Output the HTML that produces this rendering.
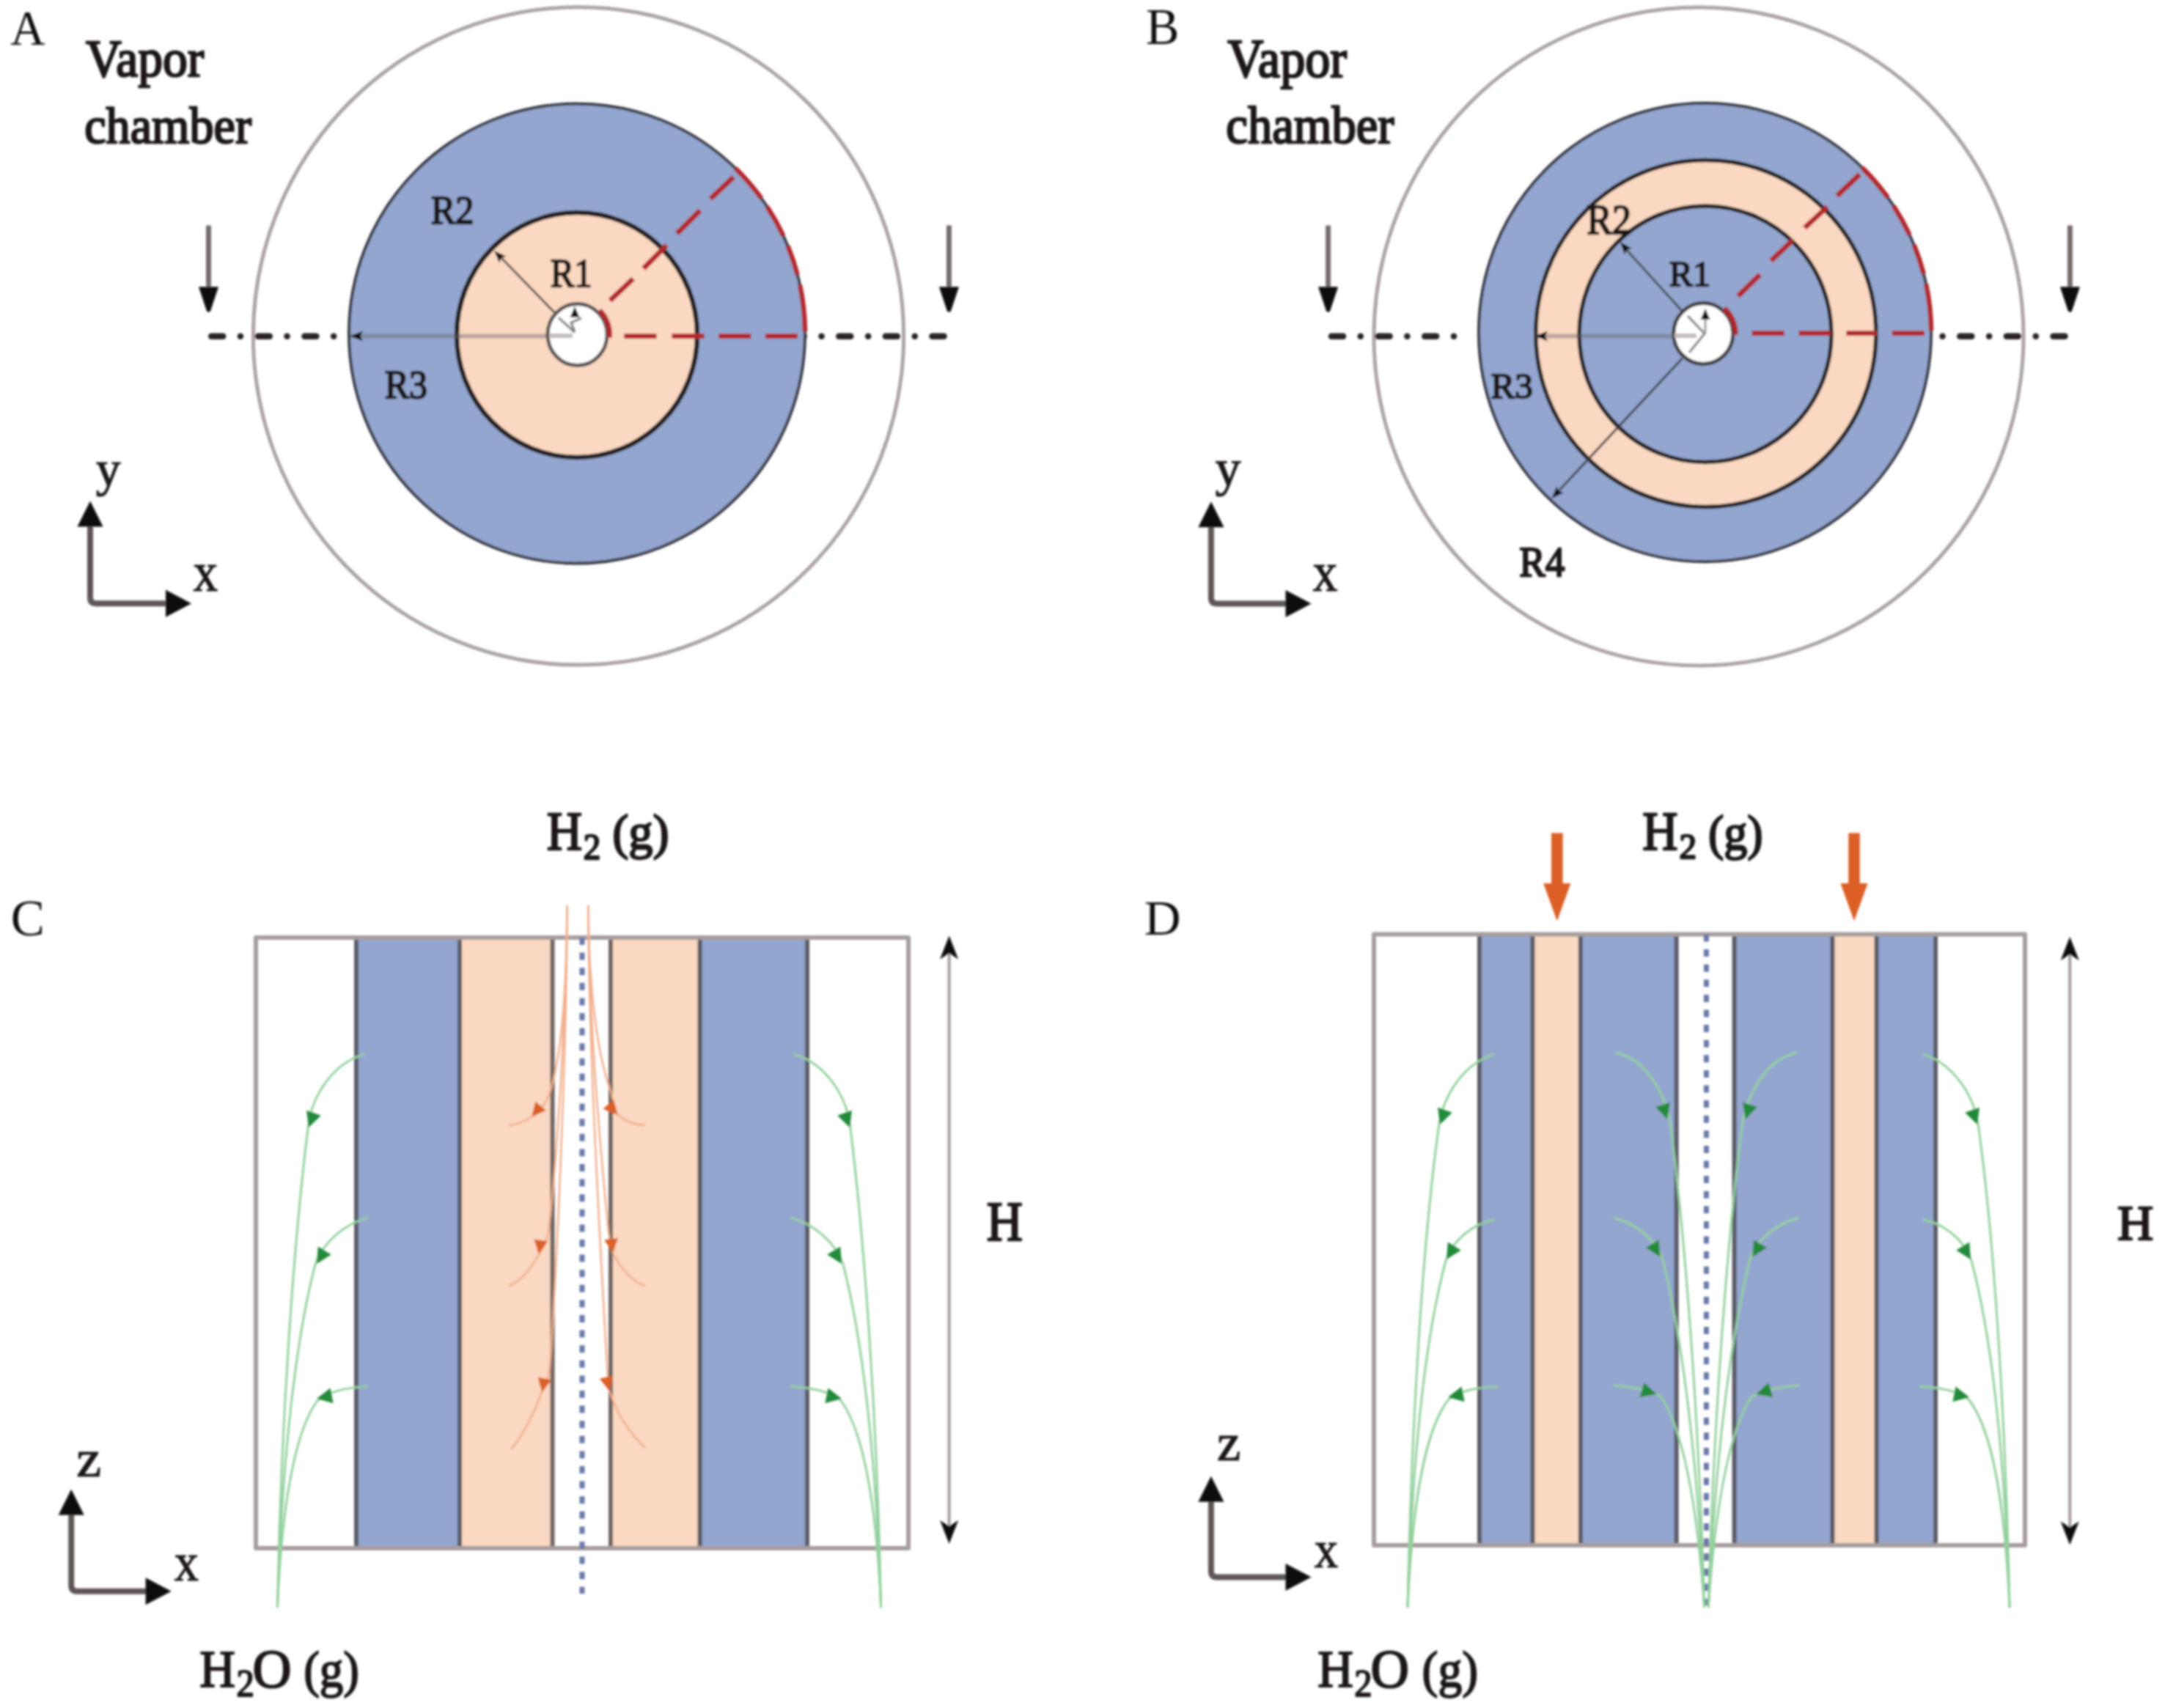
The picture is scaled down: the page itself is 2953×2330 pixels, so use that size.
<!DOCTYPE html>
<html><head><meta charset="utf-8"><title>figure</title>
<style>html,body{margin:0;padding:0;background:#fff;overflow:hidden;width:2953px;height:2330px}svg{display:block}text{font-family:"Liberation Serif",serif}</style>
</head><body>
<svg width="2953" height="2330" viewBox="0 0 2953 2330">
<defs><filter id="soft" x="0" y="0" width="2953" height="2330" filterUnits="userSpaceOnUse"><feGaussianBlur stdDeviation="1.5"/></filter></defs>
<rect width="2953" height="2330" fill="#fff"/>
<g filter="url(#soft)">
<ellipse cx="789" cy="458.4" rx="443.6" ry="448.7" fill="none" stroke="#aba3a3" stroke-width="5"/>
<line x1="288.20" y1="458.8" x2="490.00" y2="458.8" stroke="#2b2424" stroke-width="8.5" stroke-linecap="round" stroke-dasharray="16 23.7 0.1 23.8" stroke-dashoffset="0"/>
<line x1="1287.50" y1="458.8" x2="1085.00" y2="458.8" stroke="#2b2424" stroke-width="8.5" stroke-linecap="round" stroke-dasharray="16 23.7 0.1 23.8" stroke-dashoffset="0"/>
<ellipse cx="787" cy="455" rx="311" ry="313.5" fill="#93a6cf" stroke="#34343f" stroke-width="4"/>
<ellipse cx="787" cy="457" rx="164" ry="167" fill="#fbd8c1" stroke="#211a1c" stroke-width="6.5"/>
<line x1="478.00" y1="458.50" x2="749.00" y2="458.50" stroke="#6a6a72" stroke-width="6" stroke-opacity="0.45"/>
<ellipse cx="787.5" cy="456.5" rx="40.5" ry="42" fill="#ffffff" stroke="#585050" stroke-width="5"/>
<line x1="749.00" y1="458.00" x2="781.00" y2="458.00" stroke="#c4bcbc" stroke-width="6"/>
<polygon points="478.00,458.50 495.00,451.50 491.60,458.50 495.00,465.50" fill="#111"/>
<line x1="756.00" y1="426.00" x2="684.00" y2="352.00" stroke="#4f4848" stroke-width="3"/>
<polygon points="674.00,342.00 690.51,349.67 683.47,351.76 681.18,358.72" fill="#111"/>
<line x1="762.00" y1="433.50" x2="784.00" y2="453.40" stroke="#8a8585" stroke-width="3.5"/>
<path d="M784,452 L779,440 L793,434" fill="none" stroke="#777" stroke-width="3"/>
<polygon points="784.00,418.00 790.50,433.00 784.00,433.00 777.50,433.00" fill="#111"/>
<line x1="851.20" y1="458.40" x2="895.50" y2="458.40" stroke="#b3282b" stroke-width="7"/>
<line x1="916.30" y1="458.40" x2="960.60" y2="458.40" stroke="#b3282b" stroke-width="7"/>
<line x1="980.00" y1="458.40" x2="1024.40" y2="458.40" stroke="#b3282b" stroke-width="7"/>
<line x1="1043.80" y1="458.40" x2="1088.00" y2="458.40" stroke="#b3282b" stroke-width="7"/>
<line x1="832.00" y1="410.00" x2="863.60" y2="380.20" stroke="#b3282b" stroke-width="7"/>
<line x1="877.70" y1="366.20" x2="909.30" y2="334.50" stroke="#b3282b" stroke-width="7"/>
<line x1="923.30" y1="318.70" x2="955.00" y2="287.00" stroke="#b3282b" stroke-width="7"/>
<line x1="969.00" y1="271.30" x2="1000.60" y2="241.50" stroke="#b3282b" stroke-width="7"/>
<path d="M1003.04,229.49 A311,313.5 0 0 1 1038.60,270.73" fill="none" stroke="#b3282b" stroke-width="6.5"/>
<path d="M1046.34,281.97 A311,313.5 0 0 1 1068.40,321.52" fill="none" stroke="#b3282b" stroke-width="6.5"/>
<path d="M1074.53,335.53 A311,313.5 0 0 1 1087.68,374.92" fill="none" stroke="#b3282b" stroke-width="6.5"/>
<path d="M1090.98,388.75 A311,313.5 0 0 1 1097.99,452.26" fill="none" stroke="#b3282b" stroke-width="6.5"/>
<path d="M817.51,423.22 A44,45.5 0 0 1 831.33,460.47" fill="none" stroke="#b3282b" stroke-width="7"/>
<line x1="284.50" y1="307.50" x2="284.50" y2="394.00" stroke="#756c6c" stroke-width="7"/>
<path d="M272.00,392 L297.00,392 L286.50,423.5 Q284.50,426.5 282.50,423.5 Z" fill="#0d0a0a" stroke="#0d0a0a" stroke-width="1.5" stroke-linejoin="round"/>
<line x1="1294.40" y1="307.50" x2="1294.40" y2="394.00" stroke="#756c6c" stroke-width="7"/>
<path d="M1281.90,392 L1306.90,392 L1296.40,423.5 Q1294.40,426.5 1292.40,423.5 Z" fill="#0d0a0a" stroke="#0d0a0a" stroke-width="1.5" stroke-linejoin="round"/>
<path d="M123.00,713.60 L123.00,815.30 Q123.00,823.30 131.00,823.30 L231.00,823.30" fill="none" stroke="#5e5656" stroke-width="8"/>
<polygon points="123.00,683.60 140.50,718.60 123.00,718.60 105.50,718.60" fill="#0d0a0a"/>
<polygon points="261.00,823.30 226.00,841.80 226.00,823.30 226.00,804.80" fill="#0d0a0a"/>
<text transform="translate(14.14,61.00) scale(0.9548,1)" font-size="68.64" fill="#111">A</text>
<text transform="translate(116.96,103.50) scale(0.9278,1)" font-size="72.82" fill="#1a1414" stroke="#1a1414" stroke-width="2.6" stroke-linejoin="round">Vapor</text>
<text transform="translate(115.19,195.00) scale(0.9428,1)" font-size="70.17" fill="#1a1414" stroke="#1a1414" stroke-width="2.6" stroke-linejoin="round">chamber</text>
<text transform="translate(587.74,305.30) scale(0.9245,1)" font-size="54.53" fill="#1a1414" stroke="#1a1414" stroke-width="2.4" stroke-linejoin="round">R2</text>
<text transform="translate(750.78,390.50) scale(0.8872,1)" font-size="55.00" fill="#1a1414" stroke="#1a1414" stroke-width="2.4" stroke-linejoin="round">R1</text>
<text transform="translate(524.75,543.40) scale(0.9152,1)" font-size="54.68" fill="#1a1414" stroke="#1a1414" stroke-width="2.4" stroke-linejoin="round">R3</text>
<text transform="translate(130.79,663.02) scale(0.9901,1)" font-size="68.44" fill="#1a1414" stroke="#1a1414" stroke-width="1.2" stroke-linejoin="round">y</text>
<text transform="translate(263.59,806.00) scale(0.8867,1)" font-size="75.82" fill="#1a1414" stroke="#1a1414" stroke-width="1.2" stroke-linejoin="round">x</text>
<ellipse cx="2317" cy="459" rx="443" ry="449" fill="none" stroke="#aba3a3" stroke-width="5"/>
<line x1="1816.00" y1="458.8" x2="1990.00" y2="458.8" stroke="#2b2424" stroke-width="8.5" stroke-linecap="round" stroke-dasharray="16 23.7 0.1 23.8" stroke-dashoffset="0"/>
<line x1="2816.50" y1="458.8" x2="2620.00" y2="458.8" stroke="#2b2424" stroke-width="8.5" stroke-linecap="round" stroke-dasharray="16 23.7 0.1 23.8" stroke-dashoffset="0"/>
<ellipse cx="2325.5" cy="453.5" rx="308.5" ry="312.7" fill="#93a6cf" stroke="#34343f" stroke-width="4"/>
<ellipse cx="2326.8" cy="455" rx="232" ry="236.5" fill="#fbd8c1" stroke="#211a1c" stroke-width="5.5"/>
<ellipse cx="2326" cy="455.7" rx="172" ry="174.8" fill="#93a6cf" stroke="#211a1c" stroke-width="5.5"/>
<line x1="2094.00" y1="458.50" x2="2283.00" y2="458.50" stroke="#6a6a72" stroke-width="6" stroke-opacity="0.45"/>
<line x1="2294.50" y1="488.90" x2="2122.00" y2="674.00" stroke="#3f3f4a" stroke-width="3"/>
<polygon points="2116.50,680.00 2123.36,663.14 2125.79,670.06 2132.86,672.02" fill="#111"/>
<line x1="2294.00" y1="424.00" x2="2216.00" y2="338.00" stroke="#4a4a55" stroke-width="3"/>
<polygon points="2210.00,330.00 2225.88,338.90 2218.71,340.45 2215.89,347.22" fill="#111"/>
<ellipse cx="2323.2" cy="455" rx="40.5" ry="41.5" fill="#ffffff" stroke="#3e3a3a" stroke-width="5"/>
<line x1="2284.00" y1="458.00" x2="2314.00" y2="458.00" stroke="#c4bcbc" stroke-width="6"/>
<polygon points="2094.00,458.50 2111.00,451.50 2107.60,458.50 2111.00,465.50" fill="#111"/>
<path d="M2302,431 L2325,455 L2304,481" fill="none" stroke="#8e8888" stroke-width="3.5"/>
<line x1="2326.00" y1="455.00" x2="2326.00" y2="436.00" stroke="#999" stroke-width="3"/>
<polygon points="2326.00,421.00 2332.50,436.00 2326.00,436.00 2319.50,436.00" fill="#111"/>
<line x1="2389.60" y1="454.50" x2="2433.80" y2="454.50" stroke="#b3282b" stroke-width="7"/>
<line x1="2453.60" y1="454.50" x2="2497.00" y2="454.50" stroke="#b3282b" stroke-width="7"/>
<line x1="2518.40" y1="454.50" x2="2560.30" y2="454.50" stroke="#b3282b" stroke-width="7"/>
<line x1="2580.80" y1="454.50" x2="2625.00" y2="454.50" stroke="#b3282b" stroke-width="7"/>
<line x1="2370.60" y1="403.90" x2="2400.60" y2="374.70" stroke="#b3282b" stroke-width="7"/>
<line x1="2415.60" y1="355.70" x2="2444.90" y2="328.00" stroke="#b3282b" stroke-width="7"/>
<line x1="2461.50" y1="310.70" x2="2492.30" y2="282.20" stroke="#b3282b" stroke-width="7"/>
<line x1="2505.70" y1="267.20" x2="2536.60" y2="237.90" stroke="#b3282b" stroke-width="7"/>
<path d="M2539.80,228.56 A308.5,312.7 0 0 1 2575.08,269.70" fill="none" stroke="#b3282b" stroke-width="6.5"/>
<path d="M2582.75,280.91 A308.5,312.7 0 0 1 2604.64,320.36" fill="none" stroke="#b3282b" stroke-width="6.5"/>
<path d="M2610.72,334.34 A308.5,312.7 0 0 1 2623.77,373.62" fill="none" stroke="#b3282b" stroke-width="6.5"/>
<path d="M2627.03,387.42 A308.5,312.7 0 0 1 2633.99,450.77" fill="none" stroke="#b3282b" stroke-width="6.5"/>
<path d="M2351.48,420.53 A44,45 0 0 1 2367.17,456.57" fill="none" stroke="#b3282b" stroke-width="7"/>
<line x1="1811.60" y1="307.50" x2="1811.60" y2="394.00" stroke="#756c6c" stroke-width="7"/>
<path d="M1799.10,392 L1824.10,392 L1813.60,423.5 Q1811.60,426.5 1809.60,423.5 Z" fill="#0d0a0a" stroke="#0d0a0a" stroke-width="1.5" stroke-linejoin="round"/>
<line x1="2823.40" y1="307.50" x2="2823.40" y2="394.00" stroke="#756c6c" stroke-width="7"/>
<path d="M2810.90,392 L2835.90,392 L2825.40,423.5 Q2823.40,426.5 2821.40,423.5 Z" fill="#0d0a0a" stroke="#0d0a0a" stroke-width="1.5" stroke-linejoin="round"/>
<path d="M1651.90,714.30 L1651.90,815.50 Q1651.90,823.50 1659.90,823.50 L1758.50,823.50" fill="none" stroke="#5e5656" stroke-width="8"/>
<polygon points="1651.90,684.30 1669.40,719.30 1651.90,719.30 1634.40,719.30" fill="#0d0a0a"/>
<polygon points="1788.50,823.50 1753.50,842.00 1753.50,823.50 1753.50,805.00" fill="#0d0a0a"/>
<text transform="translate(1562.93,60.00) scale(0.9888,1)" font-size="68.85" fill="#111">B</text>
<text transform="translate(1674.15,104.80) scale(0.9216,1)" font-size="74.05" fill="#1a1414" stroke="#1a1414" stroke-width="2.6" stroke-linejoin="round">Vapor</text>
<text transform="translate(1672.37,194.90) scale(0.9371,1)" font-size="71.04" fill="#1a1414" stroke="#1a1414" stroke-width="2.6" stroke-linejoin="round">chamber</text>
<text transform="translate(2164.19,319.40) scale(0.9284,1)" font-size="56.19" fill="#1a1414" stroke="#1a1414" stroke-width="2.4" stroke-linejoin="round">R2</text>
<text transform="translate(2276.80,389.60) scale(0.9736,1)" font-size="49.55" fill="#1a1414" stroke="#1a1414" stroke-width="2.4" stroke-linejoin="round">R1</text>
<text transform="translate(2033.48,542.70) scale(1.0114,1)" font-size="48.49" fill="#1a1414" stroke="#1a1414" stroke-width="2.4" stroke-linejoin="round">R3</text>
<text transform="translate(2072.15,786.40) scale(0.9196,1)" font-size="58.05" fill="#1a1414" stroke="#1a1414" stroke-width="2.4" stroke-linejoin="round">R4</text>
<text transform="translate(1657.56,662.26) scale(0.9995,1)" font-size="70.07" fill="#1a1414" stroke="#1a1414" stroke-width="1.2" stroke-linejoin="round">y</text>
<text transform="translate(1790.59,806.00) scale(0.8797,1)" font-size="77.12" fill="#1a1414" stroke="#1a1414" stroke-width="1.2" stroke-linejoin="round">x</text>
<rect x="486.00" y="1279" width="141.00" height="833" fill="#93a6cf"/>
<rect x="627.00" y="1279" width="126.50" height="833" fill="#fbd8c1"/>
<rect x="833.00" y="1279" width="121.60" height="833" fill="#fbd8c1"/>
<rect x="954.60" y="1279" width="146.40" height="833" fill="#93a6cf"/>
<line x1="486.00" y1="1279.00" x2="486.00" y2="2112.00" stroke="#5a5a66" stroke-width="6"/>
<line x1="627.00" y1="1279.00" x2="627.00" y2="2112.00" stroke="#5a5a66" stroke-width="6"/>
<line x1="753.50" y1="1279.00" x2="753.50" y2="2112.00" stroke="#6f6560" stroke-width="6"/>
<line x1="833.00" y1="1279.00" x2="833.00" y2="2112.00" stroke="#6f6560" stroke-width="6"/>
<line x1="954.60" y1="1279.00" x2="954.60" y2="2112.00" stroke="#5a5a66" stroke-width="6"/>
<line x1="1101.00" y1="1279.00" x2="1101.00" y2="2112.00" stroke="#5a5a66" stroke-width="6"/>
<rect x="349" y="1279" width="890" height="833" fill="none" stroke="#a69d9d" stroke-width="6" stroke-linejoin="round"/>
<line x1="794" y1="1279" x2="794" y2="2174" stroke="#6a78a8" stroke-width="7" stroke-dasharray="10 10.6"/>
<path d="M773.6,1236 C773,1350 766,1440 750,1490 C745,1505 735,1518 725,1524 C715,1530 705,1534 695,1535" fill="none" stroke="#f1ae8c" stroke-width="2.6" stroke-opacity="1" stroke-linecap="round"/>
<path d="M773.6,1236 C772,1400 758,1600 748,1680 C745,1695 740,1705 735,1711 C725,1730 710,1748 695,1754" fill="none" stroke="#f1ae8c" stroke-width="2.6" stroke-opacity="1" stroke-linecap="round"/>
<path d="M773.6,1236 C773,1450 758,1750 750,1865 C748,1880 744,1892 739,1899 C730,1925 715,1955 698,1976" fill="none" stroke="#f1ae8c" stroke-width="2.6" stroke-opacity="1" stroke-linecap="round"/>
<path d="M802.4,1236 C803,1350 815,1440 833,1488 C836,1500 839,1512 842,1520 C852,1530 865,1534 879,1535" fill="none" stroke="#f1ae8c" stroke-width="2.6" stroke-opacity="1" stroke-linecap="round"/>
<path d="M802.4,1236 C803,1400 822,1600 830,1680 C832,1695 834,1703 836,1709 C846,1730 862,1748 879,1754" fill="none" stroke="#f1ae8c" stroke-width="2.6" stroke-opacity="1" stroke-linecap="round"/>
<path d="M802.4,1236 C803,1450 822,1750 828,1865 C829,1880 830,1890 831,1897 C840,1925 858,1955 879,1974" fill="none" stroke="#f1ae8c" stroke-width="2.6" stroke-opacity="1" stroke-linecap="round"/>
<polygon points="725.30,1523.20 730.37,1502.57 737.61,1508.72 744.84,1514.88" fill="#dc5f27"/>
<polygon points="734.90,1710.70 728.32,1690.50 737.72,1691.91 747.11,1693.32" fill="#dc5f27"/>
<polygon points="739.20,1899.20 733.61,1878.71 742.93,1880.57 752.24,1882.43" fill="#dc5f27"/>
<polygon points="842.00,1521.00 822.46,1512.68 829.69,1506.52 836.93,1500.37" fill="#dc5f27"/>
<polygon points="836.30,1709.00 824.09,1691.62 833.48,1690.21 842.88,1688.80" fill="#dc5f27"/>
<polygon points="831.00,1897.50 817.96,1880.73 827.27,1878.87 836.59,1877.01" fill="#dc5f27"/>
<path d="M496.6,1438.4 C455.0,1450 424.0,1495 420.0,1540 C400.0,1700 383.0,1950 378.4,2192" fill="none" stroke="#93d09d" stroke-width="3" stroke-opacity="1" stroke-linecap="round"/>
<path d="M500.7,1661.4 C470.0,1670 440.0,1695 430.0,1725 C405.0,1820 385.0,1980 378.4,2192" fill="none" stroke="#93d09d" stroke-width="3" stroke-opacity="1" stroke-linecap="round"/>
<path d="M500.7,1891.6 C470.0,1893 445.0,1900 432.0,1912 C405.0,1950 385.0,2040 378.4,2192" fill="none" stroke="#93d09d" stroke-width="3" stroke-opacity="1" stroke-linecap="round"/>
<polygon points="421.00,1538.00 418.03,1514.71 427.94,1518.18 437.85,1521.65" fill="#238a3b"/>
<polygon points="432.00,1724.00 433.80,1700.59 442.80,1705.99 451.81,1711.39" fill="#238a3b"/>
<polygon points="432.00,1908.00 450.53,1893.59 452.59,1903.88 454.65,1914.18" fill="#238a3b"/>
<path d="M1083.4,1438.4 C1125.0,1450 1156.0,1495 1160.0,1540 C1180.0,1700 1197.0,1950 1201.6,2192" fill="none" stroke="#93d09d" stroke-width="3" stroke-opacity="1" stroke-linecap="round"/>
<path d="M1079.3,1661.4 C1110.0,1670 1140.0,1695 1150.0,1725 C1175.0,1820 1195.0,1980 1201.6,2192" fill="none" stroke="#93d09d" stroke-width="3" stroke-opacity="1" stroke-linecap="round"/>
<path d="M1079.3,1891.6 C1110.0,1893 1135.0,1900 1148.0,1912 C1175.0,1950 1195.0,2040 1201.6,2192" fill="none" stroke="#93d09d" stroke-width="3" stroke-opacity="1" stroke-linecap="round"/>
<polygon points="1159.00,1538.00 1142.15,1521.65 1152.06,1518.18 1161.97,1514.71" fill="#238a3b"/>
<polygon points="1148.00,1724.00 1128.19,1711.39 1137.20,1705.99 1146.20,1700.59" fill="#238a3b"/>
<polygon points="1148.00,1908.00 1125.35,1914.18 1127.41,1903.88 1129.47,1893.59" fill="#238a3b"/>
<line x1="1294.60" y1="1296.50" x2="1294.60" y2="2086.00" stroke="#a39b9b" stroke-width="4"/>
<polygon points="1294.60,1276.50 1307.10,1308.50 1294.60,1300.50 1282.10,1308.50" fill="#0d0a0a"/>
<polygon points="1294.60,2106.00 1282.10,2074.00 1294.60,2082.00 1307.10,2074.00" fill="#0d0a0a"/>
<path d="M97.20,2061.70 L97.20,2162.80 Q97.20,2170.80 105.20,2170.80 L203.60,2170.80" fill="none" stroke="#5e5656" stroke-width="8"/>
<polygon points="97.20,2031.70 114.70,2066.70 97.20,2066.70 79.70,2066.70" fill="#0d0a0a"/>
<polygon points="233.60,2170.80 198.60,2189.30 198.60,2170.80 198.60,2152.30" fill="#0d0a0a"/>
<text transform="translate(14.76,1276.30) scale(0.9870,1)" font-size="70.09" fill="#111">C</text>
<text transform="translate(745.76,1158.80) scale(0.9087,1)" font-size="73.59" fill="#1a1414" stroke="#1a1414" stroke-width="2.6" stroke-linejoin="round">H</text>
<text transform="translate(795.83,1172.10) scale(0.9426,1)" font-size="50.00" fill="#1a1414" stroke="#1a1414" stroke-width="2.4" stroke-linejoin="round">2</text>
<text transform="translate(835.17,1158.33) scale(0.9858,1)" font-size="67.47" fill="#1a1414" stroke="#1a1414" stroke-width="2.4" stroke-linejoin="round">(g)</text>
<text transform="translate(1345.83,1691.70) scale(0.8935,1)" font-size="76.18" fill="#1a1414" stroke="#1a1414" stroke-width="2.6" stroke-linejoin="round">H</text>
<text transform="translate(104.24,2014.20) scale(1.0750,1)" font-size="71.02" fill="#1a1414" stroke="#1a1414" stroke-width="1.2" stroke-linejoin="round">z</text>
<text transform="translate(237.80,2156.20) scale(0.8962,1)" font-size="74.07" fill="#1a1414" stroke="#1a1414" stroke-width="1.2" stroke-linejoin="round">x</text>
<text transform="translate(272.34,2300.90) scale(0.9284,1)" font-size="72.67" fill="#1a1414" stroke="#1a1414" stroke-width="2.2" stroke-linejoin="round">H</text>
<text transform="translate(322.56,2314.30) scale(0.9251,1)" font-size="52.57" fill="#1a1414" stroke="#1a1414" stroke-width="2.0" stroke-linejoin="round">2</text>
<text transform="translate(344.59,2302.00) scale(0.9841,1)" font-size="74.62" fill="#1a1414" stroke="#1a1414" stroke-width="2.2" stroke-linejoin="round">O</text>
<text transform="translate(414.13,2300.57) scale(0.9421,1)" font-size="69.12" fill="#1a1414" stroke="#1a1414" stroke-width="2.0" stroke-linejoin="round">(g)</text>
<rect x="2018.00" y="1274.5" width="72.50" height="833.5" fill="#93a6cf"/>
<rect x="2090.50" y="1274.5" width="65.30" height="833.5" fill="#fbd8c1"/>
<rect x="2155.80" y="1274.5" width="130.80" height="833.5" fill="#93a6cf"/>
<rect x="2365.60" y="1274.5" width="133.80" height="833.5" fill="#93a6cf"/>
<rect x="2499.40" y="1274.5" width="60.20" height="833.5" fill="#fbd8c1"/>
<rect x="2559.60" y="1274.5" width="80.40" height="833.5" fill="#93a6cf"/>
<line x1="2018.00" y1="1274.50" x2="2018.00" y2="2108.00" stroke="#5a5a66" stroke-width="6"/>
<line x1="2090.50" y1="1274.50" x2="2090.50" y2="2108.00" stroke="#5a5a66" stroke-width="6"/>
<line x1="2155.80" y1="1274.50" x2="2155.80" y2="2108.00" stroke="#5a5a66" stroke-width="6"/>
<line x1="2286.60" y1="1274.50" x2="2286.60" y2="2108.00" stroke="#5a5a66" stroke-width="6"/>
<line x1="2365.60" y1="1274.50" x2="2365.60" y2="2108.00" stroke="#5a5a66" stroke-width="6"/>
<line x1="2499.40" y1="1274.50" x2="2499.40" y2="2108.00" stroke="#5a5a66" stroke-width="6"/>
<line x1="2559.60" y1="1274.50" x2="2559.60" y2="2108.00" stroke="#5a5a66" stroke-width="6"/>
<line x1="2640.00" y1="1274.50" x2="2640.00" y2="2108.00" stroke="#5a5a66" stroke-width="6"/>
<rect x="1874" y="1274.5" width="888" height="833.5" fill="none" stroke="#a69d9d" stroke-width="6" stroke-linejoin="round"/>
<line x1="2327.4" y1="1274.5" x2="2327.4" y2="2190" stroke="#6a78a8" stroke-width="7" stroke-dasharray="10 10.6"/>
<rect x="2116.00" y="1136.4" width="15.6" height="72" fill="#dc5f27"/>
<polygon points="2105.20,1204.90 2142.40,1204.90 2123.80,1256.50" fill="#dc5f27"/>
<rect x="2521.20" y="1136.4" width="15.6" height="72" fill="#dc5f27"/>
<polygon points="2510.40,1204.90 2547.60,1204.90 2529.00,1256.50" fill="#dc5f27"/>
<path d="M2037.5,1438.4 C2000.0,1450 1968.0,1490 1962.0,1540 C1940.0,1700 1925.0,1950 1920.0,2192" fill="none" stroke="#93d09d" stroke-width="3" stroke-opacity="1" stroke-linecap="round"/>
<path d="M2037.5,1663.8 C2010.0,1670 1982.0,1690 1972.0,1720 C1945.0,1820 1927.0,1980 1920.0,2192" fill="none" stroke="#93d09d" stroke-width="3" stroke-opacity="1" stroke-linecap="round"/>
<path d="M2042.0,1891.6 C2012.0,1893 1988.0,1898 1975.0,1910 C1945.0,1950 1927.0,2040 1920.0,2192" fill="none" stroke="#93d09d" stroke-width="3" stroke-opacity="1" stroke-linecap="round"/>
<polygon points="1964.00,1534.00 1961.03,1510.71 1970.94,1514.18 1980.85,1517.65" fill="#238a3b"/>
<polygon points="1973.00,1718.00 1974.80,1694.59 1983.80,1699.99 1992.81,1705.39" fill="#238a3b"/>
<polygon points="1975.00,1906.00 1993.53,1891.59 1995.59,1901.88 1997.65,1912.18" fill="#238a3b"/>
<path d="M2623.5,1438.4 C2661.0,1450 2693.0,1490 2699.0,1540 C2721.0,1700 2736.0,1950 2741.0,2192" fill="none" stroke="#93d09d" stroke-width="3" stroke-opacity="1" stroke-linecap="round"/>
<path d="M2623.5,1663.8 C2651.0,1670 2679.0,1690 2689.0,1720 C2716.0,1820 2734.0,1980 2741.0,2192" fill="none" stroke="#93d09d" stroke-width="3" stroke-opacity="1" stroke-linecap="round"/>
<path d="M2619.0,1891.6 C2649.0,1893 2673.0,1898 2686.0,1910 C2716.0,1950 2734.0,2040 2741.0,2192" fill="none" stroke="#93d09d" stroke-width="3" stroke-opacity="1" stroke-linecap="round"/>
<polygon points="2697.00,1534.00 2680.15,1517.65 2690.06,1514.18 2699.97,1510.71" fill="#238a3b"/>
<polygon points="2688.00,1718.00 2668.19,1705.39 2677.20,1699.99 2686.20,1694.59" fill="#238a3b"/>
<polygon points="2686.00,1906.00 2663.35,1912.18 2665.41,1901.88 2667.47,1891.59" fill="#238a3b"/>
<path d="M2204.4,1436 C2245.0,1445 2270.0,1490 2278.0,1530 C2300.0,1700 2318.0,1950 2324.5,2192" fill="none" stroke="#93d09d" stroke-width="3" stroke-opacity="1" stroke-linecap="round"/>
<path d="M2202.0,1661.8 C2230.0,1668 2258.0,1690 2268.0,1718 C2295.0,1830 2315.0,1990 2324.5,2192" fill="none" stroke="#93d09d" stroke-width="3" stroke-opacity="1" stroke-linecap="round"/>
<path d="M2202.0,1890 C2230.0,1892 2255.0,1898 2266.0,1906 C2295.0,1950 2315.0,2050 2324.5,2192" fill="none" stroke="#93d09d" stroke-width="3" stroke-opacity="1" stroke-linecap="round"/>
<polygon points="2274.00,1527.00 2257.91,1509.90 2267.97,1506.89 2278.02,1503.87" fill="#238a3b"/>
<polygon points="2264.50,1714.70 2244.69,1702.09 2253.70,1696.69 2262.70,1691.29" fill="#238a3b"/>
<polygon points="2259.70,1902.00 2236.57,1906.02 2239.59,1895.97 2242.60,1885.91" fill="#238a3b"/>
<path d="M2450.4,1436 C2409.8,1445 2384.8,1490 2376.8,1530 C2354.8,1700 2336.8,1950 2330.3,2192" fill="none" stroke="#93d09d" stroke-width="3" stroke-opacity="1" stroke-linecap="round"/>
<path d="M2452.8,1661.8 C2424.8,1668 2396.8,1690 2386.8,1718 C2359.8,1830 2339.8,1990 2330.3,2192" fill="none" stroke="#93d09d" stroke-width="3" stroke-opacity="1" stroke-linecap="round"/>
<path d="M2452.8,1890 C2424.8,1892 2399.8,1898 2388.8,1906 C2359.8,1950 2339.8,2050 2330.3,2192" fill="none" stroke="#93d09d" stroke-width="3" stroke-opacity="1" stroke-linecap="round"/>
<polygon points="2380.80,1527.00 2376.78,1503.87 2386.83,1506.89 2396.89,1509.90" fill="#238a3b"/>
<polygon points="2390.30,1714.70 2392.10,1691.29 2401.10,1696.69 2410.11,1702.09" fill="#238a3b"/>
<polygon points="2395.10,1902.00 2412.20,1885.91 2415.21,1895.97 2418.23,1906.02" fill="#238a3b"/>
<line x1="2823.20" y1="1298.00" x2="2823.20" y2="2087.60" stroke="#a39b9b" stroke-width="4"/>
<polygon points="2823.20,1278.00 2835.70,1310.00 2823.20,1302.00 2810.70,1310.00" fill="#0d0a0a"/>
<polygon points="2823.20,2107.60 2810.70,2075.60 2823.20,2083.60 2835.70,2075.60" fill="#0d0a0a"/>
<path d="M1651.90,2043.80 L1651.90,2143.50 Q1651.90,2151.50 1659.90,2151.50 L1758.50,2151.50" fill="none" stroke="#5e5656" stroke-width="8"/>
<polygon points="1651.90,2013.80 1669.40,2048.80 1651.90,2048.80 1634.40,2048.80" fill="#0d0a0a"/>
<polygon points="1788.50,2151.50 1753.50,2170.00 1753.50,2151.50 1753.50,2133.00" fill="#0d0a0a"/>
<text transform="translate(1560.80,1274.60) scale(1.0166,1)" font-size="67.94" fill="#111">D</text>
<text transform="translate(2240.36,1159.20) scale(0.9144,1)" font-size="73.13" fill="#1a1414" stroke="#1a1414" stroke-width="2.6" stroke-linejoin="round">H</text>
<text transform="translate(2290.43,1171.30) scale(0.9781,1)" font-size="48.19" fill="#1a1414" stroke="#1a1414" stroke-width="2.4" stroke-linejoin="round">2</text>
<text transform="translate(2329.88,1158.80) scale(0.9547,1)" font-size="67.14" fill="#1a1414" stroke="#1a1414" stroke-width="2.4" stroke-linejoin="round">(g)</text>
<text transform="translate(2888.03,1690.70) scale(0.9930,1)" font-size="68.55" fill="#1a1414" stroke="#1a1414" stroke-width="2.6" stroke-linejoin="round">H</text>
<text transform="translate(1659.94,1992.10) scale(1.0058,1)" font-size="72.33" fill="#1a1414" stroke="#1a1414" stroke-width="1.2" stroke-linejoin="round">z</text>
<text transform="translate(1792.72,2138.30) scale(0.8949,1)" font-size="72.55" fill="#1a1414" stroke="#1a1414" stroke-width="1.2" stroke-linejoin="round">x</text>
<text transform="translate(1797.14,2300.90) scale(0.9284,1)" font-size="72.67" fill="#1a1414" stroke="#1a1414" stroke-width="2.2" stroke-linejoin="round">H</text>
<text transform="translate(1847.36,2314.30) scale(0.9251,1)" font-size="52.57" fill="#1a1414" stroke="#1a1414" stroke-width="2.0" stroke-linejoin="round">2</text>
<text transform="translate(1869.42,2302.00) scale(0.9737,1)" font-size="74.62" fill="#1a1414" stroke="#1a1414" stroke-width="2.2" stroke-linejoin="round">O</text>
<text transform="translate(1939.61,2300.57) scale(0.9488,1)" font-size="69.12" fill="#1a1414" stroke="#1a1414" stroke-width="2.0" stroke-linejoin="round">(g)</text>
</g>
</svg>
</body></html>
